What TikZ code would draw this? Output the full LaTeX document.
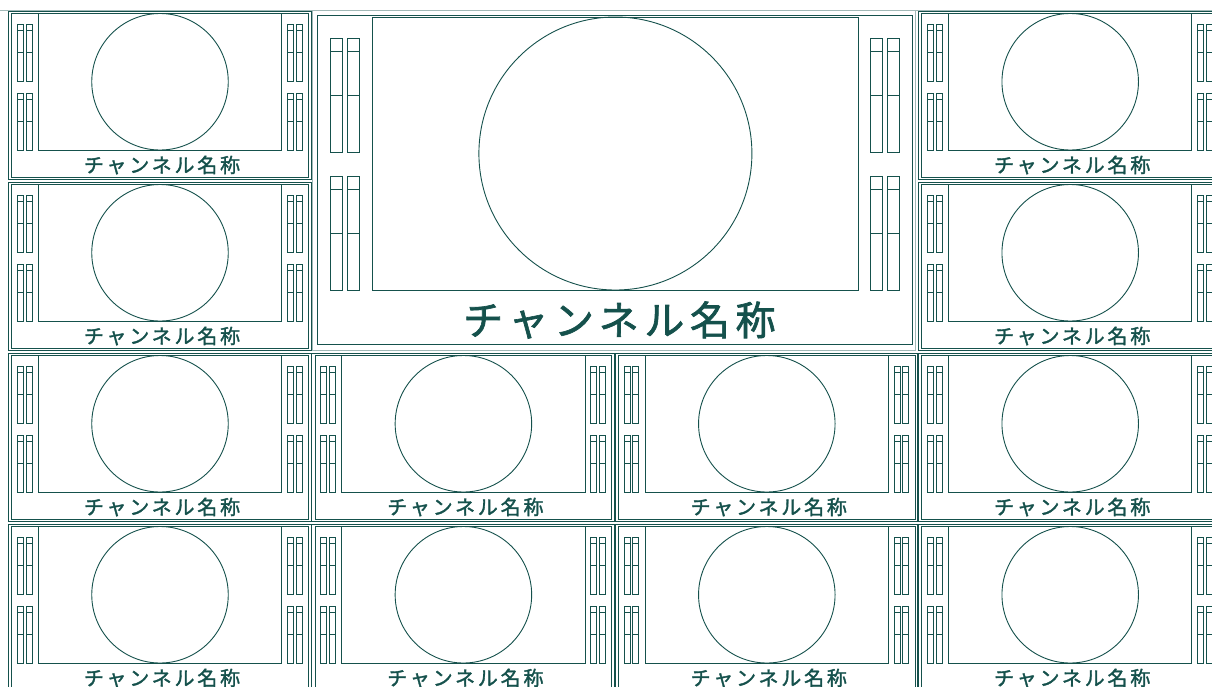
\documentclass[tikz,border=0pt]{standalone}
\usepackage{fontspec}
\newfontfamily\jpfont{Noto Sans CJK JP}[LetterSpace=14, FakeBold=1.6]
\definecolor{mvteal}{HTML}{15514C}
\tikzset{
  cellline/.style={draw=mvteal, line width=1pt},
  lightline/.style={draw=mvteal!40, line width=0.9pt},
  frameline/.style={draw=mvteal, line width=0.9pt},
  meterline/.style={draw=mvteal, line width=0.9pt},
  smalllabel/.style={text=mvteal, inner sep=0pt, font=\jpfont\fontsize{20}{20}\selectfont},
  biglabel/.style={text=mvteal, inner sep=0pt, font=\jpfont\fontsize{40}{40}\selectfont}
}
% one viewer cell: #1,#2 origin, #3 scale, #4 label name, #5 label style
\newcommand{\mvcell}[5]{%
  \begin{scope}[shift={(#1,#2)}, scale=#3]
    \draw[frameline] (30.3,3.5) rectangle (273.7,140);
    \draw[frameline] (152,71.75) circle (68.25);
    \foreach \mx in {9.3,18,279.3,288}
      \foreach \my in {14,83}
        \draw[meterline] (\mx,\my) rectangle ++(6,57)
          (\mx,\my+6.7) -- ++(6,0)
          (\mx,\my+28.5) -- ++(6,0);
    \node[#5] (#4) at (154,155) {チャンネル名称};
  \end{scope}
}
\begin{document}
\begin{tikzpicture}[x=1pt, y=-1pt]
  \useasboundingbox (0,0) rectangle (1212,686);
  \clip (0,0) rectangle (1212,686);
  \draw[lightline] (0,10) -- (1212,10);
  % small cells
  \foreach \c/\r in {0/0,3/0,0/1,3/1,0/2,1/2,2/2,3/2,0/3,1/3,2/3,3/3} {
    \pgfmathsetmacro{\ox}{8+303.4*\c}
    \pgfmathsetmacro{\oy}{10+171*\r}
    \begin{scope}[shift={(\ox,\oy)}]
      \draw[cellline] (0.3,1.5) rectangle (303,169.5);
      \draw[cellline] (3.7,3.5) rectangle (300.3,167);
    \end{scope}
    \mvcell{\ox}{\oy}{1}{label-\c-\r}{smalllabel}
  }
  % big cell
  \draw[lightline] (312.7,10) rectangle (915,350);
  \draw[cellline, line width=1.3pt] (317.5,15.5) rectangle (912.5,344.5);
  \mvcell{311.4}{10}{2}{label-big}{biglabel}
\end{tikzpicture}
\end{document}
